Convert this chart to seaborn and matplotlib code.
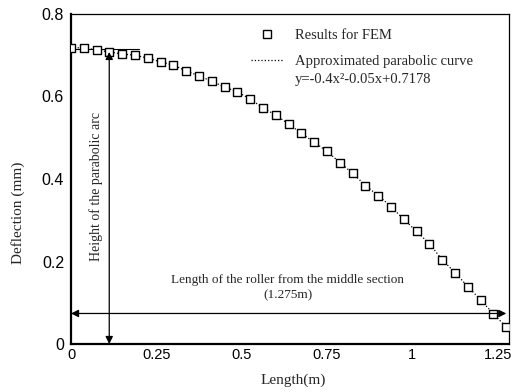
import numpy as np
import pandas as pd
import matplotlib
matplotlib.use("Agg")
import matplotlib.pyplot as plt
import seaborn as sns

# --------------------------------------------------
# DATA
# --------------------------------------------------

length_m = [0.0, 0.0375, 0.075, 0.1125, 0.15, 0.1875, 0.225, 0.2625, 0.3,
            0.3375, 0.375, 0.4125, 0.45, 0.4875, 0.525, 0.5625, 0.6, 0.6375,
            0.675, 0.7125, 0.75, 0.7875, 0.825, 0.8625, 0.9, 0.9375, 0.975,
            1.0125, 1.05, 1.0875, 1.125, 1.1625, 1.2, 1.2375, 1.275]

deflection_mm = [0.718, 0.718, 0.713, 0.708, 0.703, 0.700, 0.693, 0.684,
                 0.676, 0.662, 0.650, 0.637, 0.623, 0.611, 0.594, 0.572,
                 0.555, 0.533, 0.511, 0.489, 0.467, 0.440, 0.414, 0.384,
                 0.360, 0.333, 0.302, 0.273, 0.243, 0.204, 0.173, 0.139,
                 0.107, 0.073, 0.041]

x_ticks = [0, 0.25, 0.5, 0.75, 1, 1.25]
x_tick_labels = ["0", "0.25", "0.5", "0.75", "1", "1.25"]
y_ticks = [0, 0.2, 0.4, 0.6, 0.8]
y_tick_labels = ["0", "0.2", "0.4", "0.6", "0.8"]

arc_height = 0.716
arc_x = 0.112
roller_length = 1.275
roller_arrow_y = 0.074

df = pd.DataFrame({"Length": length_m, "Deflection": deflection_mm})

# --------------------------------------------------
# PLOT
# --------------------------------------------------

sns.set_style("white")
plt.rcParams["font.family"] = ["Liberation Serif", "DejaVu Serif"]

fig = plt.figure(figsize=(5.13, 3.92), dpi=100)
ax = fig.add_axes([71 / 513, 1 - 344 / 392, 438 / 513, 330 / 392])

sns.lineplot(data=df, x="Length", y="Deflection", ax=ax, color="black",
             linestyle=":", linewidth=0.9, zorder=2)
sns.scatterplot(data=df, x="Length", y="Deflection", ax=ax, marker="s",
                s=38, facecolor="white", edgecolor="black", linewidth=1.0,
                zorder=3)

ax.set_xlim(0, 1.283)
ax.set_ylim(0, 0.8)
ax.set_xticks(x_ticks)
ax.set_xticklabels(x_tick_labels, fontfamily="Liberation Sans", fontsize=10.5)
ax.set_yticks(y_ticks)
ax.set_yticklabels(y_tick_labels, fontfamily="Liberation Sans", fontsize=11.5)
ax.tick_params(axis="both", direction="in", length=4, width=0.8, colors="black")
ax.tick_params(axis="x", pad=3)
ax.tick_params(axis="y", pad=5)

for side in ["left", "bottom"]:
    ax.spines[side].set_linewidth(1.6)
for side in ["top", "right"]:
    ax.spines[side].set_linewidth(0.9)
for sp in ax.spines.values():
    sp.set_color("black")

ax.set_xlabel("Length(m)", fontsize=11)
ax.set_ylabel("Deflection (mm)", fontsize=11)
ax.xaxis.set_label_coords(0.508, -0.088)
ax.yaxis.set_label_coords(-0.105, 0.397)

# annotations
ax.plot([0, 0.2], [arc_height, arc_height], color="black", lw=0.8, zorder=2)
ax.annotate("", xy=(arc_x, arc_height - 0.008), xytext=(arc_x, 0),
            arrowprops=dict(arrowstyle="<|-|>", color="black", lw=0.9,
                            mutation_scale=11, shrinkA=0, shrinkB=0))
ax.text(0.073, 0.382, "Height of the parabolic arc", rotation=90,
        ha="center", va="center", fontsize=10)

ax.annotate("", xy=(roller_length, roller_arrow_y), xytext=(0, roller_arrow_y),
            arrowprops=dict(arrowstyle="<|-|>", color="black", lw=0.9,
                            mutation_scale=11, shrinkA=0, shrinkB=0))
ax.text(0.635, 0.156, "Length of the roller from the middle section",
        ha="center", va="center", fontsize=9.5)
ax.text(0.635, 0.119, "(1.275m)", ha="center", va="center", fontsize=9.5)

# legend (formula line set underneath the curve entry)
handles = [
    plt.Line2D([], [], marker="s", linestyle="none", markersize=6.2,
               markerfacecolor="white", markeredgecolor="black", markeredgewidth=1.0),
    plt.Line2D([], [], linestyle=":", color="black", linewidth=0.9),
]
labels = ["Results for FEM", "Approximated parabolic curve"]
ax.legend(handles, labels, loc="upper left", bbox_to_anchor=(0.41, 0.955),
          frameon=False, fontsize=10.5, handlelength=2.2, handletextpad=0.85,
          labelspacing=0.85, borderaxespad=0, borderpad=0)
ax.text(0.512, 0.8, "y=-0.4x\u00b2-0.05x+0.7178", ha="left",
        va="center", fontsize=10.5, transform=ax.transAxes)

fig.savefig("out.png", dpi=100)
